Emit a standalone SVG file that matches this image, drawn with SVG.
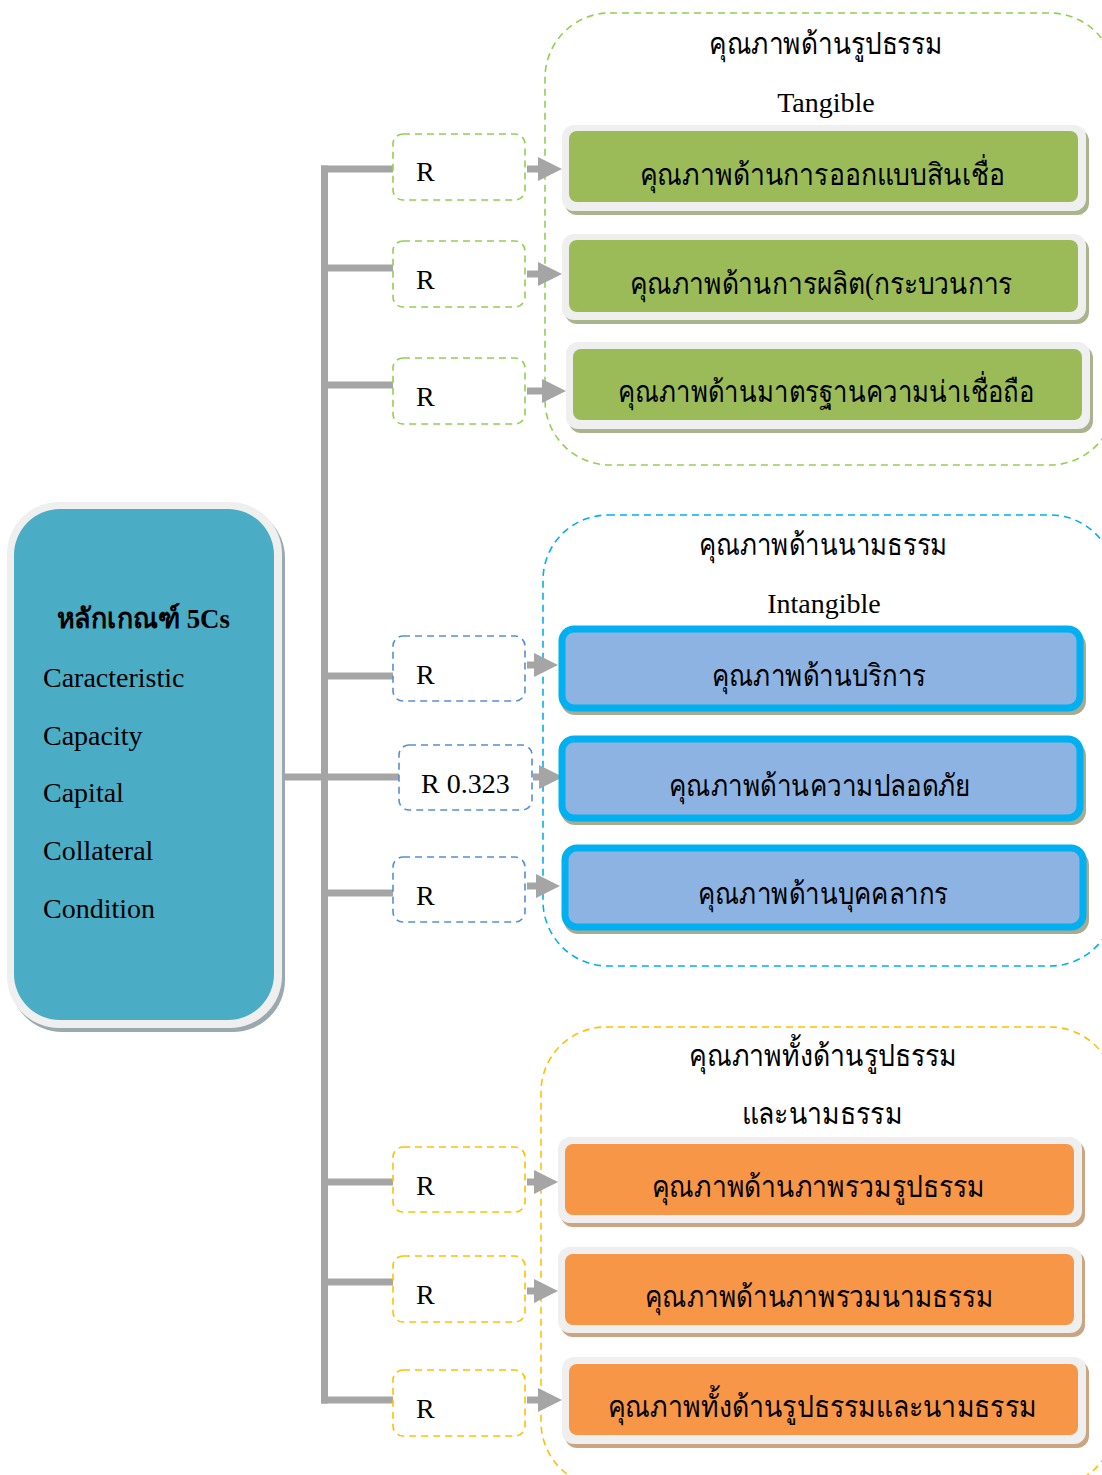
<svg xmlns="http://www.w3.org/2000/svg" width="1102" height="1475" viewBox="0 0 1102 1475">
<style>
.th{font-family:"Liberation Serif","DejaVu Serif","Noto Sans",serif;font-size:30px;fill:#000;text-anchor:middle}
.en{font-family:"Liberation Serif",serif;font-size:28px;fill:#000}
.cont{fill:none;stroke-width:1.6;stroke-dasharray:7 5}
.rb{fill:#fff;stroke-width:1.6;stroke-dasharray:7 5}
.rim{fill:#efefef}
.con{stroke:#a5a5a5;stroke-width:7;fill:none}
.ah{fill:#a5a5a5}
</style>
<rect width="1102" height="1475" fill="#fff"/>

<!-- containers -->
<g id="group-tangible">
<rect class="cont" x="545" y="13" width="570" height="452" rx="65" stroke="#92D050"/>
<text class="th" x="826" y="54" textLength="234" lengthAdjust="spacingAndGlyphs">คุณภาพด้านรูปธรรม</text>
<text class="en" x="826" y="112" text-anchor="middle">Tangible</text>
</g>
<g id="group-intangible">
<rect class="cont" x="543" y="515" width="572" height="451" rx="65" stroke="#00B0F0"/>
<text class="th" x="823" y="555" textLength="249" lengthAdjust="spacingAndGlyphs">คุณภาพด้านนามธรรม</text>
<text class="en" x="824" y="613" text-anchor="middle">Intangible</text>
</g>
<g id="group-both">
<rect class="cont" x="541" y="1027" width="574" height="460" rx="65" stroke="#FFC000"/>
<text class="th" x="823" y="1066" textLength="268" lengthAdjust="spacingAndGlyphs">คุณภาพทั้งด้านรูปธรรม</text>
<text class="th" x="822" y="1124" textLength="161" lengthAdjust="spacingAndGlyphs">และนามธรรม</text>
</g>

<!-- connectors -->
<g id="connectors">
<line class="con" x1="324.5" y1="165.5" x2="324.5" y2="1403.5"/>
<line class="con" x1="321" y1="169" x2="394" y2="169"/>
<line class="con" x1="321" y1="268" x2="394" y2="268"/>
<line class="con" x1="321" y1="385" x2="394" y2="385"/>
<line class="con" x1="321" y1="676" x2="394" y2="676"/>
<line class="con" x1="282" y1="777" x2="399" y2="777"/>
<line class="con" x1="321" y1="893" x2="394" y2="893"/>
<line class="con" x1="321" y1="1182" x2="394" y2="1182"/>
<line class="con" x1="321" y1="1282" x2="394" y2="1282"/>
<line class="con" x1="321" y1="1400" x2="394" y2="1400"/>
<!-- arrows -->
<line class="con" x1="527" y1="169" x2="540" y2="169"/><polygon class="ah" points="538,157 562,169 538,181"/>
<line class="con" x1="527" y1="274" x2="540" y2="274"/><polygon class="ah" points="538,262 562,274 538,286"/>
<line class="con" x1="527" y1="391" x2="544" y2="391"/><polygon class="ah" points="542,379 566,391 542,403"/>
<line class="con" x1="527" y1="665" x2="536" y2="665"/><polygon class="ah" points="534,653 558,665 534,677"/>
<line class="con" x1="533" y1="777" x2="541" y2="777"/><polygon class="ah" points="539,765 563,777 539,789"/>
<line class="con" x1="527" y1="886" x2="538" y2="886"/><polygon class="ah" points="536,874 560,886 536,898"/>
<line class="con" x1="527" y1="1182" x2="536" y2="1182"/><polygon class="ah" points="534,1170 558,1182 534,1194"/>
<line class="con" x1="527" y1="1291" x2="536" y2="1291"/><polygon class="ah" points="534,1279 558,1291 534,1303"/>
<line class="con" x1="527" y1="1400" x2="540" y2="1400"/><polygon class="ah" points="538,1388 562,1400 538,1412"/>
</g>

<!-- left node -->
<g id="node-5cs">
<rect x="10" y="506" width="275" height="526" rx="52" fill="#9aa9ad"/>
<rect x="7" y="502" width="275" height="526" rx="52" fill="#efefef"/>
<rect x="14" y="509" width="260" height="511" rx="46" fill="#4BACC6"/>
<text x="57" y="628" font-family="Liberation Serif,DejaVu Serif,serif" font-size="28" font-weight="bold" textLength="173" lengthAdjust="spacingAndGlyphs">หลักเกณฑ์ 5Cs</text>
<text class="en" x="43" y="687">Caracteristic</text>
<text class="en" x="43" y="745">Capacity</text>
<text class="en" x="43" y="802">Capital</text>
<text class="en" x="43" y="860">Collateral</text>
<text class="en" x="43" y="918">Condition</text>
</g>

<!-- R boxes -->
<g id="r1"><rect class="rb" x="393" y="134" width="132" height="66" rx="10" stroke="#92D050"/><text class="en" x="416" y="181">R</text></g>
<g id="r2"><rect class="rb" x="393" y="241" width="132" height="66" rx="10" stroke="#92D050"/><text class="en" x="416" y="289">R</text></g>
<g id="r3"><rect class="rb" x="393" y="358" width="132" height="66" rx="10" stroke="#92D050"/><text class="en" x="416" y="406">R</text></g>
<g id="r4"><rect class="rb" x="393" y="636" width="132" height="65" rx="10" stroke="#558ED5"/><text class="en" x="416" y="684">R</text></g>
<g id="r5"><rect class="rb" x="399" y="745" width="133" height="65" rx="10" stroke="#558ED5"/><text class="en" x="421" y="793">R 0.323</text></g>
<g id="r6"><rect class="rb" x="393" y="857" width="132" height="65" rx="10" stroke="#558ED5"/><text class="en" x="416" y="905">R</text></g>
<g id="r7"><rect class="rb" x="393" y="1147" width="132" height="65" rx="10" stroke="#FFC000"/><text class="en" x="416" y="1195">R</text></g>
<g id="r8"><rect class="rb" x="393" y="1256" width="132" height="66" rx="10" stroke="#FFC000"/><text class="en" x="416" y="1304">R</text></g>
<g id="r9"><rect class="rb" x="393" y="1370" width="132" height="66" rx="10" stroke="#FFC000"/><text class="en" x="416" y="1418">R</text></g>

<!-- green boxes -->
<g id="t1">
<rect x="565" y="129" width="524" height="86" rx="12" fill="#a9b38e"/>
<rect class="rim" x="562" y="125" width="524" height="86" rx="12"/>
<rect x="569" y="131" width="509" height="71" rx="8" fill="#9BBB59"/>
<text class="th" x="822" y="185" textLength="365" lengthAdjust="spacingAndGlyphs">คุณภาพด้านการออกแบบสินเชื่อ</text>
</g>
<g id="t2">
<rect x="565" y="238" width="524" height="86" rx="12" fill="#a9b38e"/>
<rect class="rim" x="562" y="234" width="524" height="86" rx="12"/>
<rect x="569" y="240" width="509" height="72" rx="8" fill="#9BBB59"/>
<text class="th" x="821" y="294" textLength="383" lengthAdjust="spacingAndGlyphs">คุณภาพด้านการผลิต(กระบวนการ</text>
</g>
<g id="t3">
<rect x="569" y="346" width="524" height="87" rx="12" fill="#a9b38e"/>
<rect class="rim" x="566" y="342" width="524" height="87" rx="12"/>
<rect x="573" y="349" width="509" height="71" rx="8" fill="#9BBB59"/>
<text class="th" x="826" y="402" textLength="416" lengthAdjust="spacingAndGlyphs">คุณภาพด้านมาตรฐานความน่าเชื่อถือ</text>
</g>

<!-- blue boxes -->
<g id="i1">
<rect x="561" y="632" width="525" height="83" rx="14" fill="#a7ab90"/>
<rect x="562" y="629" width="518" height="79" rx="12" fill="#8DB3E2" stroke="#00B0F0" stroke-width="7"/>
<text class="th" x="819" y="686" textLength="214" lengthAdjust="spacingAndGlyphs">คุณภาพด้านบริการ</text>
</g>
<g id="i2">
<rect x="561" y="742" width="525" height="83" rx="14" fill="#a7ab90"/>
<rect x="562" y="739" width="518" height="79" rx="12" fill="#8DB3E2" stroke="#00B0F0" stroke-width="7"/>
<text class="th" x="820" y="796" textLength="302" lengthAdjust="spacingAndGlyphs">คุณภาพด้านความปลอดภัย</text>
</g>
<g id="i3">
<rect x="564" y="851" width="525" height="83" rx="14" fill="#a7ab90"/>
<rect x="565" y="848" width="518" height="79" rx="12" fill="#8DB3E2" stroke="#00B0F0" stroke-width="7"/>
<text class="th" x="823" y="904" textLength="250" lengthAdjust="spacingAndGlyphs">คุณภาพด้านบุคคลากร</text>
</g>

<!-- orange boxes -->
<g id="b1">
<rect x="561" y="1141" width="524" height="86" rx="12" fill="#c9a582"/>
<rect class="rim" x="558" y="1137" width="524" height="86" rx="12"/>
<rect x="565" y="1144" width="509" height="71" rx="8" fill="#F79646"/>
<text class="th" x="818" y="1197" textLength="333" lengthAdjust="spacingAndGlyphs">คุณภาพด้านภาพรวมรูปธรรม</text>
</g>
<g id="b2">
<rect x="561" y="1251" width="524" height="86" rx="12" fill="#c9a582"/>
<rect class="rim" x="558" y="1247" width="524" height="86" rx="12"/>
<rect x="565" y="1254" width="509" height="71" rx="8" fill="#F79646"/>
<text class="th" x="819" y="1307" textLength="348" lengthAdjust="spacingAndGlyphs">คุณภาพด้านภาพรวมนามธรรม</text>
</g>
<g id="b3">
<rect x="565" y="1361" width="524" height="87" rx="12" fill="#c9a582"/>
<rect class="rim" x="562" y="1357" width="524" height="87" rx="12"/>
<rect x="569" y="1364" width="509" height="71" rx="8" fill="#F79646"/>
<text class="th" x="822" y="1417" textLength="429" lengthAdjust="spacingAndGlyphs">คุณภาพทั้งด้านรูปธรรมและนามธรรม</text>
</g>
</svg>
